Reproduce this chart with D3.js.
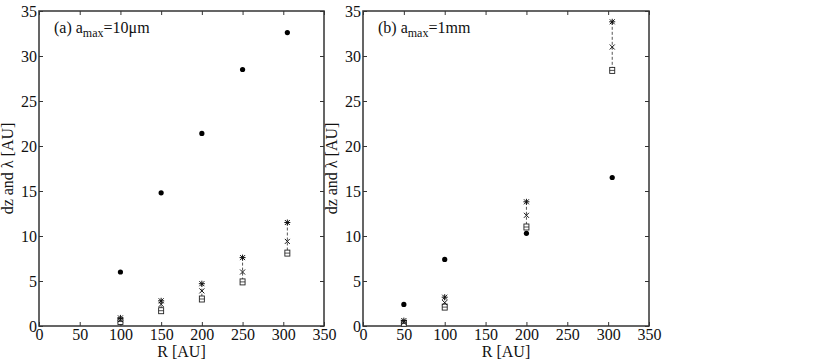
<!DOCTYPE html>
<html lang="en">
<head>
  <meta charset="UTF-8">
  <title>dz and lambda vs R</title>
  <script src="https://d3js.org/d3.v7.min.js"></script>
  <style>
    body { margin: 0; background: #fff; }
    text { font-family: "Liberation Serif", "Times New Roman", Times, serif; fill: #111; }
  </style>
</head>
<body>
  <svg id="chart" width="831" height="360"></svg>
  <script>
    // panel (a): a_max = 10 um
    const radiusA = [100, 150, 200, 250, 305];
    const dotA    = [6.0, 14.8, 21.4, 28.5, 32.6];
    const starA   = [0.9, 2.8, 4.7, 7.6, 11.5];
    const crossA  = [0.7, 2.4, 3.9, 6.0, 9.4];
    const squareA = [0.5, 1.7, 3.0, 4.9, 8.1];

    // panel (b): a_max = 1 mm
    const radiusB = [50, 100, 200, 305];
    const dotB    = [2.4, 7.4, 10.3, 16.5];
    const starB   = [0.6, 3.2, 13.8, 33.8];
    const crossB  = [0.4, 2.6, 12.3, 31.0];
    const squareB = [0.3, 2.1, 11.0, 28.4];

    const xTicks = [0, 50, 100, 150, 200, 250, 300, 350];
    const yTicks = [0, 5, 10, 15, 20, 25, 30, 35];

    const serif = '"Liberation Serif", "Times New Roman", Times, serif';
    const svg = d3.select("#chart");
    const plotTop = 11, plotBottom = 326;

    function panel(left, right, label, sub, rest, R, dot, star, cross, square) {
      const x = d3.scaleLinear().domain([0, 350]).range([left, right]);
      const y = d3.scaleLinear().domain([0, 35]).range([plotBottom, plotTop]);
      const g = svg.append("g");

      // frame with inward ticks on all sides
      g.append("rect")
        .attr("x", left).attr("y", plotTop)
        .attr("width", right - left).attr("height", plotBottom - plotTop)
        .attr("fill", "none").attr("stroke", "#333").attr("stroke-width", 1.5);

      const axB = d3.axisBottom(x).tickValues(xTicks).tickSizeInner(-4).tickSizeOuter(0).tickPadding(3);
      const axT = d3.axisTop(x).tickValues(xTicks).tickSizeInner(-4).tickSizeOuter(0).tickFormat("");
      const axL = d3.axisLeft(y).tickValues(yTicks).tickSizeInner(-4).tickSizeOuter(0).tickPadding(2);
      const axR = d3.axisRight(y).tickValues(yTicks).tickSizeInner(-4).tickSizeOuter(0).tickFormat("");

      [[axB, `translate(0,${plotBottom})`], [axT, `translate(0,${plotTop})`],
       [axL, `translate(${left},0)`], [axR, `translate(${right},0)`]].forEach(([ax, tr]) => {
        const a = g.append("g").attr("transform", tr).call(ax).attr("font-family", serif);
        a.select(".domain").remove();
        a.selectAll("line").attr("stroke", "#333");
        a.selectAll("text").style("font-family", serif)
          .style("font-size", "16px").attr("fill", "#111");
      });

      g.append("text")
        .attr("x", (left + right) / 2).attr("y", 357)
        .attr("text-anchor", "middle").style("font-size", "16px")
        .text("R [AU]");

      g.append("text")
        .attr("transform", `translate(${left - 26},${(plotTop + plotBottom) / 2}) rotate(-90)`)
        .attr("text-anchor", "middle").style("font-size", "16px")
        .text("dz and λ [AU]");

      const ann = g.append("text")
        .attr("x", left + 15).attr("y", 33).style("font-size", "16px");
      ann.append("tspan").text(label + " a");
      ann.append("tspan").attr("dy", 4).style("font-size", "12px").text(sub);
      ann.append("tspan").attr("dy", -4).text(rest);

      // dashed connectors
      g.selectAll(".conn").data(R).join("line")
        .attr("x1", d => x(d)).attr("x2", d => x(d))
        .attr("y1", (d, i) => y(star[i])).attr("y2", (d, i) => y(square[i]))
        .attr("stroke", "#555").attr("stroke-width", 1)
        .attr("stroke-dasharray", "3,2");

      // filled dots
      g.selectAll(".dot").data(R).join("circle")
        .attr("cx", d => x(d)).attr("cy", (d, i) => y(dot[i]))
        .attr("r", 2.6).attr("fill", "#000");

      // squares
      g.selectAll(".sq").data(R).join("g")
        .attr("transform", (d, i) => `translate(${x(d)},${y(square[i])})`)
        .each(function () {
          const s = d3.select(this);
          s.append("rect").attr("x", -2.5).attr("y", -3).attr("width", 5).attr("height", 6)
            .attr("fill", "#fff").attr("stroke", "#222").attr("stroke-width", 0.9);
          s.append("line").attr("x1", -2.5).attr("x2", 2.5).attr("y1", 0).attr("y2", 0)
            .attr("stroke", "#222").attr("stroke-width", 0.8);
        });

      // crosses
      g.selectAll(".cr").data(R).join("path")
        .attr("transform", (d, i) => `translate(${x(d)},${y(cross[i])})`)
        .attr("d", "M-2.5,-2.5L2.5,2.5M-2.5,2.5L2.5,-2.5")
        .attr("stroke", "#111").attr("stroke-width", 1);

      // asterisks
      g.selectAll(".st").data(R).join("path")
        .attr("transform", (d, i) => `translate(${x(d)},${y(star[i])})`)
        .attr("d", "M-2.5,-2.5L2.5,2.5M-2.5,2.5L2.5,-2.5M0,-3L0,3M-3,0L3,0")
        .attr("stroke", "#111").attr("stroke-width", 1);
    }

    panel(39, 324, "(a)", "max", "=10μm", radiusA, dotA, starA, crossA, squareA);
    panel(363, 649, "(b)", "max", "=1mm", radiusB, dotB, starB, crossB, squareB);
  </script>
</body>
</html>
